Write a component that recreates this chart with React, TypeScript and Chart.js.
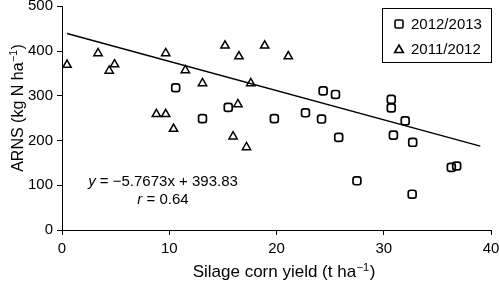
import React, { useEffect, useRef } from 'react';
import { Chart, registerables } from 'chart.js';

Chart.register(...registerables);

const FONT = '"Liberation Sans", Arial, Helvetica, sans-serif';

const xTickValues = [0, 10, 20, 30, 40];
const yTickValues = [0, 100, 200, 300, 400, 500];

const squaresLabel = '2012/2013';
const squaresX = [10.6, 15.5, 13.1, 19.8, 22.7, 24.35, 24.2, 25.5, 25.8, 30.7, 30.7, 32.0, 30.9, 32.7, 36.3, 36.8, 27.5, 32.65];
const squaresY = [318, 274, 249, 249, 262, 311, 248, 303, 207, 292, 273, 244, 212, 196, 140, 143, 110, 80];

const trianglesLabel = '2011/2012';
const trianglesX = [0.47, 3.36, 4.9, 4.4, 9.67, 11.5, 8.8, 9.67, 10.4, 15.2, 18.9, 16.5, 21.1, 13.1, 17.6, 16.4, 15.95, 17.2];
const trianglesY = [369, 395, 370, 356, 395, 357, 259, 259, 226, 412, 412, 388, 388, 328, 328, 281, 209, 185];

const trendX = [0.47, 39];
const trendY = [439, 187.5];

const equationText = ' = \u22125.7673x + 393.83';
const rText = ' = 0.64';

// titles: [main, superscript, closing]
const xTitleParts = ['Silage corn yield (t ha', '\u22121', ')'];
const yTitleParts = ['ARNS (kg N ha', '\u22121', ')'];

function drawSquare(ctx: CanvasRenderingContext2D, x: number, y: number, s: number) {
  const h = s / 2;
  const r = 1.5;
  ctx.beginPath();
  ctx.moveTo(x - h + r, y - h);
  ctx.lineTo(x + h - r, y - h);
  ctx.arcTo(x + h, y - h, x + h, y - h + r, r);
  ctx.lineTo(x + h, y + h - r);
  ctx.arcTo(x + h, y + h, x + h - r, y + h, r);
  ctx.lineTo(x - h + r, y + h);
  ctx.arcTo(x - h, y + h, x - h, y + h - r, r);
  ctx.lineTo(x - h, y - h + r);
  ctx.arcTo(x - h, y - h, x - h + r, y - h, r);
  ctx.closePath();
  ctx.stroke();
}

function drawTriangle(ctx: CanvasRenderingContext2D, x: number, y: number, r: number) {
  ctx.beginPath();
  ctx.moveTo(x, y - r);
  ctx.lineTo(x + r * 0.866, y + r * 0.5);
  ctx.lineTo(x - r * 0.866, y + r * 0.5);
  ctx.closePath();
  ctx.stroke();
}

function drawTitle(
  ctx: CanvasRenderingContext2D,
  parts: string[],
  size: number,
  supSize: number,
  supRaise: number,
  cx: number,
  baseline: number
) {
  const fMain = `${size}px ${FONT}`;
  const fSup = `${supSize}px ${FONT}`;
  ctx.font = fMain;
  const w0 = ctx.measureText(parts[0]).width;
  const w2 = ctx.measureText(parts[2]).width;
  ctx.font = fSup;
  const w1 = ctx.measureText(parts[1]).width + 1;
  let x = cx - (w0 + w1 + w2) / 2;
  ctx.textAlign = 'left';
  ctx.textBaseline = 'alphabetic';
  ctx.font = fMain;
  ctx.fillText(parts[0], x, baseline);
  x += w0;
  ctx.font = fSup;
  ctx.fillText(parts[1], x + 0.5, baseline - supRaise);
  x += w1;
  ctx.font = fMain;
  ctx.fillText(parts[2], x, baseline);
}

const overlayPlugin = {
  id: 'overlay',
  afterDraw(chart: any) {
    const ctx: CanvasRenderingContext2D = chart.ctx;
    ctx.save();
    // legend
    ctx.strokeStyle = '#000';
    ctx.lineWidth = 1;
    ctx.strokeRect(382.5, 8.5, 109, 54);
    ctx.fillStyle = '#000';
    ctx.textBaseline = 'middle';
    ctx.textAlign = 'left';
    ctx.font = `15px ${FONT}`;
    ctx.lineWidth = 1.6;
    drawSquare(ctx, 399, 24, 8);
    ctx.fillText(squaresLabel, 411, 24.5);
    drawTriangle(ctx, 399, 50, 5);
    ctx.fillText(trianglesLabel, 411, 49.5);

    // equation
    const drawLine = (italic: string, rest: string, cx: number, cy: number) => {
      ctx.font = `italic 15px ${FONT}`;
      const w1 = ctx.measureText(italic).width;
      ctx.font = `15px ${FONT}`;
      const w2 = ctx.measureText(rest).width;
      const start = cx - (w1 + w2) / 2;
      ctx.font = `italic 15px ${FONT}`;
      ctx.fillText(italic, start, cy);
      ctx.font = `15px ${FONT}`;
      ctx.fillText(rest, start + w1, cy);
    };
    drawLine('y', equationText, 163, 182);
    drawLine('r', rText, 163, 200);

    // axis titles
    drawTitle(ctx, xTitleParts, 17, 11, 6.5, 284, 277);
    ctx.save();
    ctx.translate(22.5, 108);
    ctx.rotate(-Math.PI / 2);
    drawTitle(ctx, yTitleParts, 16, 10.5, 6, 0, 0);
    ctx.restore();

    ctx.restore();
  },
};

export default function App() {
  const ref = useRef<HTMLCanvasElement | null>(null);

  useEffect(() => {
    document.body.style.margin = '0';
    if (!ref.current) return;
    const squares = squaresX.map((x, i) => ({ x, y: squaresY[i] }));
    const triangles = trianglesX.map((x, i) => ({ x, y: trianglesY[i] }));
    const trend = trendX.map((x, i) => ({ x, y: trendY[i] }));

    const axisCommon = {
      grid: {
        display: true,
        drawOnChartArea: false,
        drawTicks: true,
        tickLength: 5,
        color: '#000',
        lineWidth: 1,
      },
      border: { display: true, color: '#000', width: 1 },
    };

    const chart = new Chart(ref.current, {
      type: 'scatter',
      data: {
        datasets: [
          {
            type: 'line',
            label: 'trend',
            data: trend,
            borderColor: '#000',
            borderWidth: 1.5,
            pointRadius: 0,
            fill: false,
          } as any,
          {
            label: squaresLabel,
            data: squares,
            pointStyle: 'rectRounded',
            pointRadius: 4.6,
            borderColor: '#000',
            backgroundColor: 'rgba(0,0,0,0)',
            borderWidth: 1.7,
          },
          {
            label: trianglesLabel,
            data: triangles,
            pointStyle: 'triangle',
            pointRadius: 4.8,
            borderColor: '#000',
            backgroundColor: 'rgba(0,0,0,0)',
            borderWidth: 1.5,
          },
        ],
      },
      options: {
        animation: false,
        responsive: false,
        maintainAspectRatio: false,
        devicePixelRatio: 1,
        layout: { padding: { top: 6, right: 9, left: 0, bottom: 0 } },
        plugins: {
          legend: { display: false },
          tooltip: { enabled: false },
        },
        scales: {
          x: {
            type: 'linear',
            min: 0,
            max: 40,
            afterBuildTicks: (s: any) => {
              s.ticks = xTickValues.map((v) => ({ value: v }));
            },
            ticks: { color: '#000', font: { size: 15, family: FONT }, padding: 5, maxRotation: 0 },
            title: { display: false },
            afterFit: (s: any) => {
              s.height = 53;
              s.paddingLeft = 0;
              s.paddingRight = 0;
            },
            ...axisCommon,
          },
          y: {
            type: 'linear',
            min: 0,
            max: 500,
            afterBuildTicks: (s: any) => {
              s.ticks = yTickValues.map((v) => ({ value: v }));
            },
            ticks: { color: '#000', font: { size: 15, family: FONT }, padding: 4 },
            title: { display: false },
            afterFit: (s: any) => {
              s.width = 62;
              s.paddingTop = 0;
              s.paddingBottom = 0;
            },
            ...axisCommon,
          },
        },
      } as any,
      plugins: [overlayPlugin],
    });
    return () => chart.destroy();
  }, []);

  return (
    <div style={{ width: 500, height: 283 }}>
      <canvas ref={ref} width={500} height={283} style={{ display: 'block' }} />
    </div>
  );
}
